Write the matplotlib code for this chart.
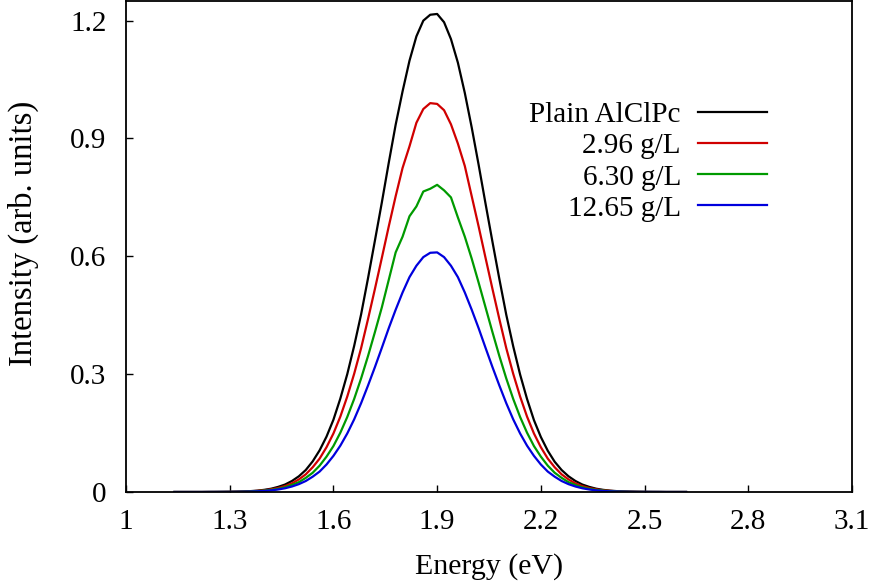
import numpy as np
import matplotlib
matplotlib.use("Agg")
import matplotlib.pyplot as plt
from matplotlib.offsetbox import VPacker

# Energy grid (eV), 0.02 eV steps
energy = np.round(np.arange(1.14, 2.6201, 0.02), 2)

plain = [0, 0, 0, 0, 0, 0.0001, 0.0002, 0.0003, 0.0005, 0.0008, 0.0013, 0.0022, 0.0035, 0.0055,
         0.0084, 0.013, 0.019, 0.028, 0.040, 0.056, 0.078, 0.106, 0.141, 0.184, 0.238, 0.300,
         0.372, 0.452, 0.544, 0.640, 0.737, 0.838, 0.935, 1.020, 1.098, 1.160, 1.200, 1.215,
         1.217, 1.196, 1.153, 1.093, 1.016, 0.928, 0.833, 0.734, 0.637, 0.542, 0.451, 0.371,
         0.299, 0.237, 0.183, 0.140, 0.105, 0.077, 0.056, 0.040, 0.028, 0.019, 0.013, 0.0084,
         0.0055, 0.0035, 0.0022, 0.0013, 0.0008, 0.0005, 0.0003, 0.0002, 0.0001, 0, 0, 0, 0]
c296 = [0, 0, 0, 0, 0, 0.0001, 0.0001, 0.0002, 0.0004, 0.0007, 0.0011, 0.0018, 0.0028, 0.0044,
        0.0068, 0.010, 0.015, 0.022, 0.032, 0.045, 0.063, 0.085, 0.114, 0.149, 0.192, 0.243,
        0.301, 0.366, 0.440, 0.517, 0.596, 0.676, 0.753, 0.825, 0.880, 0.940, 0.975, 0.990,
        0.988, 0.972, 0.936, 0.887, 0.830, 0.753, 0.676, 0.596, 0.517, 0.440, 0.366, 0.301,
        0.243, 0.192, 0.149, 0.114, 0.085, 0.063, 0.045, 0.032, 0.022, 0.015, 0.010, 0.0068,
        0.0044, 0.0028, 0.0018, 0.0011, 0.0007, 0.0004, 0.0002, 0.0001, 0.0001, 0, 0, 0, 0]
c630 = [0, 0, 0, 0, 0, 0.0001, 0.0001, 0.0002, 0.0003, 0.0005, 0.0009, 0.0014, 0.0022, 0.0035,
        0.0054, 0.008, 0.012, 0.018, 0.025, 0.036, 0.049, 0.067, 0.090, 0.117, 0.151, 0.191,
        0.237, 0.289, 0.346, 0.407, 0.470, 0.540, 0.610, 0.650, 0.702, 0.727, 0.765, 0.772,
        0.782, 0.768, 0.750, 0.699, 0.650, 0.594, 0.533, 0.470, 0.407, 0.346, 0.289, 0.237,
        0.191, 0.151, 0.117, 0.090, 0.067, 0.049, 0.036, 0.025, 0.018, 0.012, 0.008, 0.0054,
        0.0035, 0.0022, 0.0014, 0.0009, 0.0005, 0.0003, 0.0002, 0.0001, 0.0001, 0, 0, 0, 0]
c1265 = [0, 0, 0, 0, 0, 0.0001, 0.0001, 0.0002, 0.0002, 0.0004, 0.0007, 0.0011, 0.0017, 0.0027,
         0.0042, 0.0064, 0.0095, 0.014, 0.020, 0.028, 0.039, 0.052, 0.070, 0.092, 0.118, 0.149,
         0.185, 0.226, 0.271, 0.318, 0.367, 0.417, 0.464, 0.508, 0.547, 0.576, 0.598, 0.609,
         0.610, 0.598, 0.576, 0.547, 0.508, 0.464, 0.417, 0.367, 0.318, 0.271, 0.226, 0.185,
         0.149, 0.118, 0.092, 0.070, 0.052, 0.039, 0.028, 0.020, 0.014, 0.0095, 0.0064, 0.0042,
         0.0027, 0.0017, 0.0011, 0.0007, 0.0004, 0.0002, 0.0002, 0.0001, 0.0001, 0, 0, 0, 0]

series = [("Plain AlClPc", plain, "#000000"),
          ("2.96 g/L", c296, "#d00000"),
          ("6.30 g/L", c630, "#009a00"),
          ("12.65 g/L", c1265, "#0000dd")]

xticks = [1, 1.3, 1.6, 1.9, 2.2, 2.5, 2.8, 3.1]
yticks = [0, 0.3, 0.6, 0.9, 1.2]
xticklabels = ["1", "1.3", "1.6", "1.9", "2.2", "2.5", "2.8", "3.1"]
yticklabels = ["0", "0.3", "0.6", "0.9", "1.2"]

plt.rcParams['font.family'] = ['Liberation Serif', 'DejaVu Serif']
FS = 21

fig = plt.figure(figsize=(8.75, 5.85), dpi=100)
ax = fig.add_axes([126/875, 1 - 492/585, (852-126)/875, 491/585])

for label, vals, col in series:
    ax.plot(energy, vals, color=col, lw=1.6, label=label)

ax.set_xlim(1, 3.1)
ax.set_ylim(0, 1.25)
ax.set_xticks(xticks)
ax.set_xticklabels(xticklabels)
ax.set_yticks(yticks)
ax.set_yticklabels(yticklabels)
ax.tick_params(direction='in', length=5, width=1, labelsize=FS)
ax.tick_params(axis='x', pad=12)
ax.tick_params(axis='y', pad=14)
for s in ax.spines.values():
    s.set_linewidth(1.3)
ax.set_xlabel("Energy (eV)", fontsize=21.5, labelpad=13)
ax.set_ylabel("Intensity (arb. units)", fontsize=23.5, va='center')
ax.yaxis.set_label_coords((23 - 126) / 726, 1 - 232 / 491)

leg = ax.legend(loc='upper right', bbox_to_anchor=((767-126)/726, 1 - 101/491),
                frameon=False, markerfirst=False, fontsize=FS, borderpad=0,
                borderaxespad=0, handlelength=2.35, handletextpad=0.6,
                labelspacing=0.16)
for vp in leg.findobj(VPacker):
    vp.align = "right"

fig.savefig("out.png", dpi=100)
